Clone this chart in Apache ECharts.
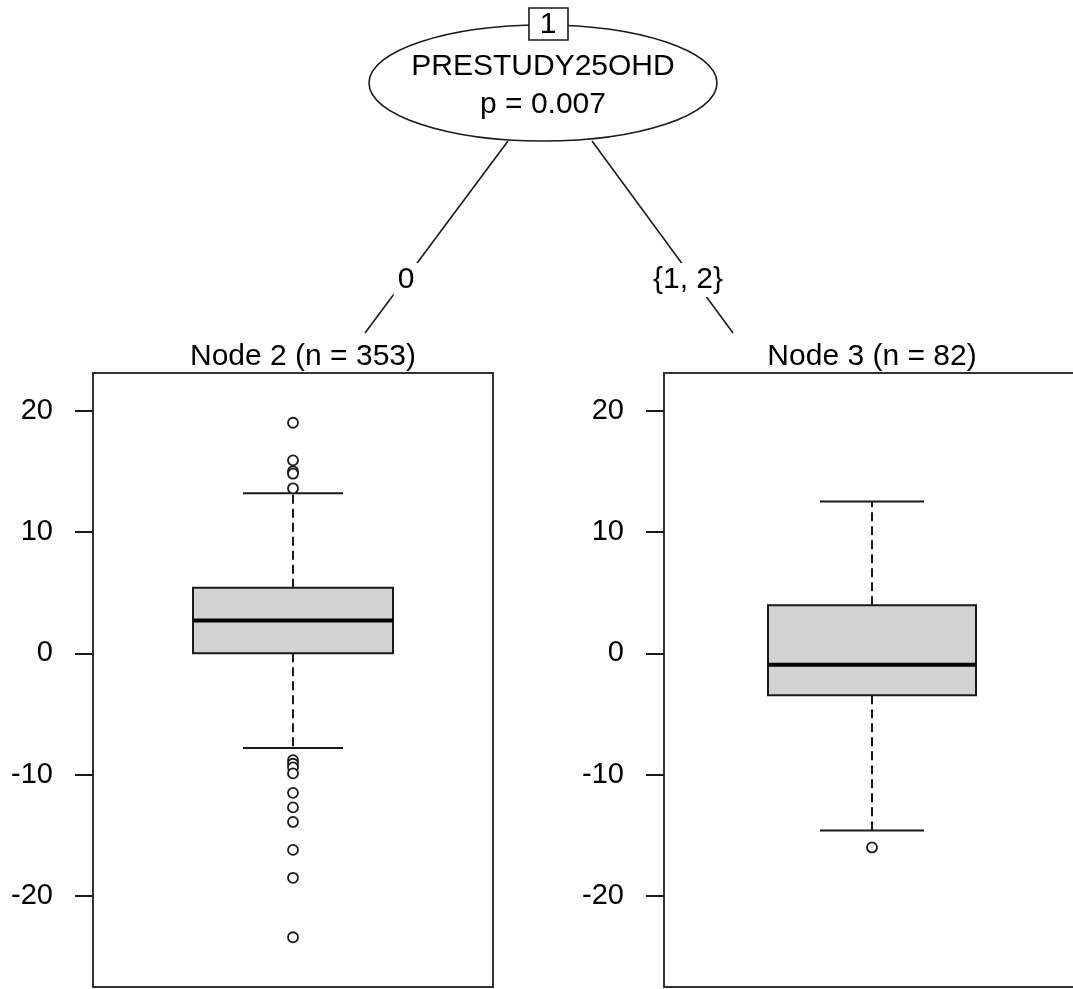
<!DOCTYPE html>
<html>
<head>
<meta charset="utf-8">
<script src="https://cdn.jsdelivr.net/npm/echarts@6/dist/echarts.min.js"></script>
<style>
  html, body { margin: 0; padding: 0; background: #fff; overflow: hidden; }
  #output { width: 1100px; height: 989px; }
</style>
</head>
<body>
<div id="output"></div>
<script>
// the canvas is a bit wider than the window so the right panel runs off the edge like the original
const chart = echarts.init(document.getElementById('output'));

// tick labels on both y axes
const yTicks = [-20, -10, 0, 10, 20];

// node titles and split labels
const nodeTitles = ['Node 2 (n = 353)', 'Node 3 (n = 82)'];
const splitVar = 'PRESTUDY25OHD';
const splitP = 'p = 0.007';
const branchLabels = ['0', '{1, 2}'];

// [lower whisker, q1, median, q3, upper whisker]
const node2Box = [-7.8, 0.0, 2.7, 5.4, 13.2];
const node3Box = [-14.6, -3.45, -0.95, 3.95, 12.5];

// outliers
const node2Out = [19.0, 15.9, 15.0, 14.8, 13.6, -8.8, -9.1, -9.4, -9.9, -11.5, -12.7, -13.9, -16.2, -18.5, -23.4];
const node3Out = [-16.0];

const FONT = '"Liberation Sans", Arial, sans-serif';
const INK = '#1a1a1a';

function boxItem (params, api) {
  const x = api.value(0);
  const pMin = api.coord([x, api.value(1)]);
  const pQ1 = api.coord([x, api.value(2)]);
  const pMed = api.coord([x, api.value(3)]);
  const pQ3 = api.coord([x, api.value(4)]);
  const pMax = api.coord([x, api.value(5)]);
  const w = api.size([0.5, 0])[0];
  const cx = pMed[0];
  const dash = { stroke: INK, lineWidth: 2, lineDash: [9, 5] };
  const solid = { stroke: INK, lineWidth: 2 };
  return {
    type: 'group',
    children: [
      { type: 'line', shape: { x1: cx, y1: pQ3[1], x2: cx, y2: pMax[1] }, style: dash },
      { type: 'line', shape: { x1: cx, y1: pQ1[1], x2: cx, y2: pMin[1] }, style: dash },
      { type: 'line', shape: { x1: cx - w / 4, y1: pMax[1], x2: cx + w / 4, y2: pMax[1] }, style: solid },
      { type: 'line', shape: { x1: cx - w / 4, y1: pMin[1], x2: cx + w / 4, y2: pMin[1] }, style: solid },
      { type: 'rect', shape: { x: cx - w / 2, y: pQ3[1], width: w, height: pQ1[1] - pQ3[1] },
        style: { fill: '#d3d3d3', stroke: INK, lineWidth: 2 } },
      { type: 'line', shape: { x1: cx - w / 2, y1: pMed[1], x2: cx + w / 2, y2: pMed[1] },
        style: { stroke: '#000', lineWidth: 4 } }
    ]
  };
}

function yAxis (idx) {
  return {
    type: 'value',
    gridIndex: idx,
    min: -27.5,
    max: 23.1,
    splitLine: { show: false },
    axisLine: { show: false },
    axisTick: { show: true, length: 18, customValues: yTicks, lineStyle: { color: INK, width: 2 } },
    axisLabel: { customValues: yTicks, margin: 40, fontSize: 29, color: '#000', fontFamily: FONT }
  };
}

function xAxis (idx) {
  return { type: 'value', gridIndex: idx, min: 0, max: 1, show: false };
}

const grids = [
  { left: 93, top: 373, width: 400, height: 614 },
  { left: 664, top: 373, width: 416, height: 614 }
].map(g => Object.assign(g, { show: true, borderColor: '#333', borderWidth: 2, backgroundColor: 'transparent' }));

function boxSeries (idx, stats) {
  return {
    type: 'custom',
    xAxisIndex: idx,
    yAxisIndex: idx,
    renderItem: boxItem,
    encode: { x: 0, y: [1, 2, 3, 4, 5] },
    data: [[0.5].concat(stats)],
    silent: true
  };
}

function outSeries (idx, values) {
  return {
    type: 'scatter',
    xAxisIndex: idx,
    yAxisIndex: idx,
    symbol: 'circle',
    symbolSize: 10,
    itemStyle: { color: '#fff', borderColor: INK, borderWidth: 1.8, opacity: 1 },
    data: values.map(v => [0.5, v]),
    z: 5,
    silent: true
  };
}

const textStyle = (text, x, y, extra) => ({
  type: 'text',
  x, y,
  style: Object.assign({ text, font: '30px ' + FONT, fill: '#000', align: 'center', verticalAlign: 'middle' }, extra || {}),
  z: 20
});

const graphic = [
  { type: 'line', shape: { x1: 508, y1: 141, x2: 365, y2: 333 }, style: { stroke: INK, lineWidth: 1.6 }, z: 10 },
  { type: 'line', shape: { x1: 592, y1: 141, x2: 733, y2: 333 }, style: { stroke: INK, lineWidth: 1.6 }, z: 10 },
  { type: 'ellipse', shape: { cx: 543, cy: 83, rx: 174, ry: 58 }, style: { fill: '#fff', stroke: INK, lineWidth: 1.6 }, z: 11 },
  { type: 'rect', shape: { x: 529, y: 8, width: 39, height: 32 }, style: { fill: '#fff', stroke: INK, lineWidth: 1.6 }, z: 12 },
  textStyle('1', 548, 25),
  textStyle(splitVar, 543, 67),
  textStyle(splitP, 543, 105),
  textStyle(branchLabels[0], 406, 280, { backgroundColor: '#fff', padding: [2, 4] }),
  textStyle(branchLabels[1], 688, 280, { backgroundColor: '#fff', padding: [2, 4] }),
  textStyle(nodeTitles[0], 303, 357),
  textStyle(nodeTitles[1], 872, 357)
];

chart.setOption({
  animation: false,
  backgroundColor: '#fff',
  grid: grids,
  xAxis: [xAxis(0), xAxis(1)],
  yAxis: [yAxis(0), yAxis(1)],
  series: [
    boxSeries(0, node2Box),
    outSeries(0, node2Out),
    boxSeries(1, node3Box),
    outSeries(1, node3Out)
  ],
  graphic
});
</script>
</body>
</html>
